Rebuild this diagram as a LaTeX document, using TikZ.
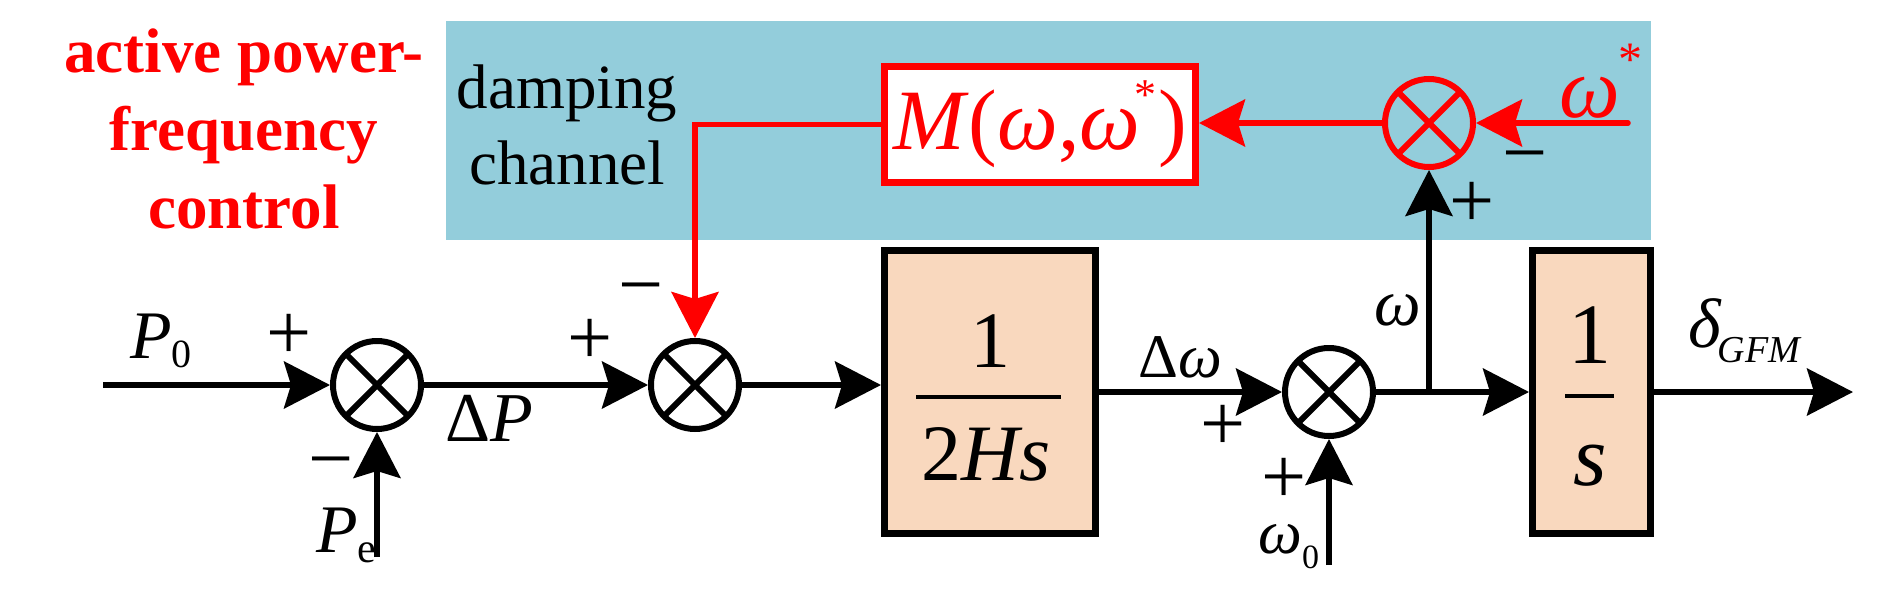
\documentclass[tikz,border=0pt]{standalone}
\usepackage{fontspec}
\setmainfont{Liberation Serif}
\usetikzlibrary{arrows.meta}
\definecolor{bluebg}{RGB}{147,205,219}
\definecolor{peach}{RGB}{249,216,190}
\definecolor{rd}{RGB}{255,0,0}
\newcommand\fs[1]{\fontsize{#1pt}{#1pt}\selectfont}
\begin{document}
\begin{tikzpicture}[x=0.5pt,y=-0.5pt,
  wire/.style={line width=2.75pt},
  arr/.style={wire,-{Stealth[length=23pt,width=23.5pt,inset=3.5pt]}},
  rwire/.style={wire,draw=rd},
  rarr/.style={arr,draw=rd},
  sumj/.style={circle,draw=#1,line width=3pt,minimum size=44pt,inner sep=0pt,
    path picture={\draw[#1,line width=3pt]
      (path picture bounding box.north west) -- (path picture bounding box.south east)
      (path picture bounding box.north east) -- (path picture bounding box.south west);}},
  sumj/.default=black,
  blk/.style={draw,line width=3.5pt,fill=peach,inner sep=0pt},
  sign/.style={inner sep=0pt,font=\fs{40}},
  lbl/.style={inner sep=0pt,font=\fs{34}},
  ttl/.style={inner sep=0pt,text=rd,font=\fs{31.5}\bfseries},
  dmp/.style={inner sep=0pt,font=\fs{31.5}},
]
\useasboundingbox (0,0) rectangle (1890,605);
% damping channel background
\fill[bluebg] (446,21) rectangle (1651,240);

% title
\node[ttl,anchor=base] (t1) at (244,72) {active power-};
\node[ttl,anchor=base] (t2) at (244,150) {frequency};
\node[ttl,anchor=base] (t3) at (244,228) {control};
\node[dmp,anchor=base] (d1) at (567,108) {damping};
\node[dmp,anchor=base] (d2) at (567,184) {channel};

% summing junctions
\node[sumj] (j1) at (377,385) {};
\node[sumj] (j2) at (695,385) {};
\node[sumj] (j3) at (1329,392) {};
\node[sumj=rd] (rj) at (1429,123) {};

% blocks
\node[blk,minimum width=105.5pt,minimum height=141.5pt] (b1) at (990,392) {};
\node[blk,minimum width=59pt,minimum height=141.5pt] (b2) at (1591.5,392) {};
\node[draw=rd,fill=white,line width=3.5pt,minimum width=155.5pt,minimum height=58pt,inner sep=0pt,text=rd,font=\fs{43}] (mb) at (1040,124.5)
  {\textit{M}(\textit{ω},\textit{ω}\kern-3pt\raisebox{20pt}{\fs{22}*}\kern1pt)};

% block contents
\node[inner sep=0pt,anchor=base,font=\fs{40}] (n1) at (990,367) {1};
\node[inner sep=0pt,anchor=base,font=\fs{40}] (d1b) at (986,480) {2\textit{Hs}};
\draw[line width=2.25pt] (916,397) -- (1061,397);
\node[inner sep=0pt,anchor=base,font=\fs{43}] (n2) at (1590,363) {1};
\node[inner sep=0pt,anchor=base,font=\fs{43}] (d2b) at (1590,485) {\textit{s}};
\draw[line width=2.25pt] (1565,396) -- (1614,396);

% coordinates
\coordinate (p0) at (103,385);
\coordinate (pe) at (377,557);
\coordinate (br) at (1429,392);
\coordinate (dout) at (1853,392);
\coordinate (w0) at (1329,565);
\coordinate (ws) at (1628,123);

% connectors
\draw[arr] (p0) -- (j1);
\draw[arr] (pe) -- (j1);
\draw[arr] (j1) -- (j2);
\draw[arr] (j2) -- (j2 -| b1.west);
\draw[arr] (b1) -- (j3);
\draw[wire] (j3) -- (br);
\draw[arr] (br) -- (b2);
\draw[arr] (b2) -- (dout);
\draw[arr] (br) -- (rj);
\draw[arr] (w0) -- (j3);
\draw[rarr,line cap=round] (ws) -- (rj);
\draw[rarr] (rj) -- (rj -| mb.east);
\draw[rarr] (mb.west) -| (j2);

% labels
\node[lbl,anchor=base west] (lp0) at (130,358) {\textit{P}\raisebox{-4.5pt}{\fs{20}0}};
\node[lbl,anchor=base west] (lpe) at (316,552) {\textit{P}\raisebox{-5pt}{\fs{21}e}};
\node[lbl,anchor=base west,font=\fs{35}] (ldp) at (445,441) {Δ\textit{P}};
\node[lbl,anchor=base west,font=\fs{31}] (ldw) at (1138,377) {Δ\textit{ω}};
\node[lbl,anchor=base west,font=\fs{33}] (lw) at (1374,325) {\textit{ω}};
\node[lbl,anchor=base west,font=\fs{31}] (lw0) at (1258,553) {\textit{ω}\raisebox{-7.5pt}{\fs{17}0}};
\node[lbl,anchor=base west,font=\fs{35}] (ld) at (1688,347) {\textit{δ}\kern-2pt\raisebox{-7.5pt}{\fs{19}\textit{GFM}}};
\node[lbl,anchor=base west,text=rd,font=\fs{43}] (lws) at (1559,117) {\textit{ω}\kern-1pt\raisebox{21pt}{\fs{24}*}};

% signs
\node[sign] (s1) at (289,337) {+};
\node[sign] (s2) at (331,471) {−};
\node[sign] (s3) at (590,342) {+};
\node[sign] (s4) at (641,297) {−};
\node[sign] (s5) at (1223,428) {+};
\node[sign] (s6) at (1284,481) {+};
\node[sign] (s7) at (1472,205) {+};
\node[sign] (s8) at (1525,165) {−};
\end{tikzpicture}
\end{document}
